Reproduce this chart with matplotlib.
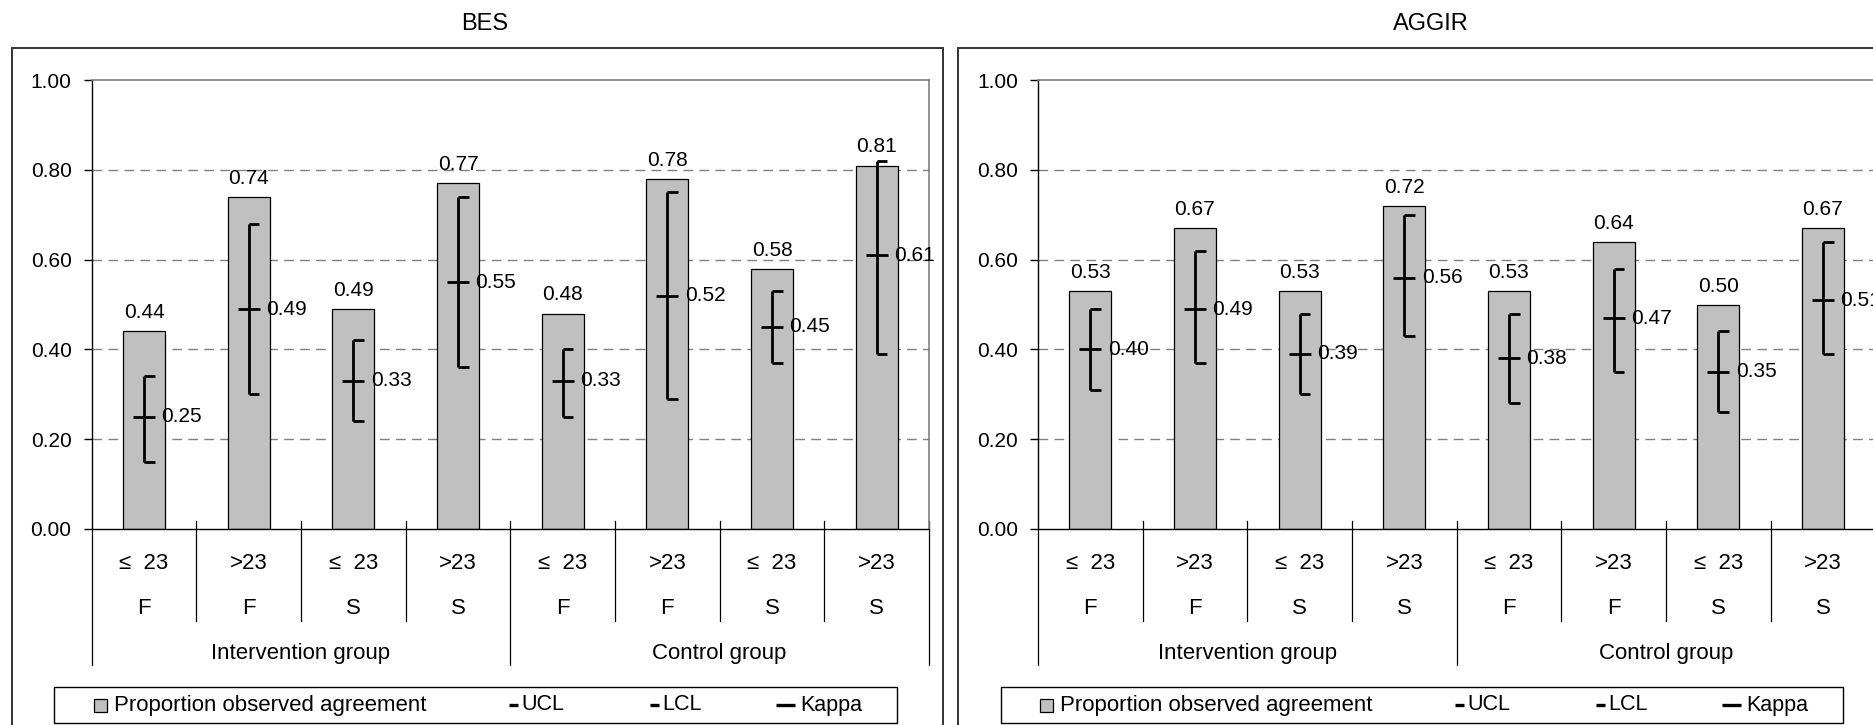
import matplotlib
matplotlib.use("Agg")
import matplotlib.pyplot as plt
from matplotlib.patches import Rectangle
from matplotlib.lines import Line2D
import matplotlib.transforms as mtrans
import numpy as np

plt.rcParams['font.family'] = ['Liberation Sans', 'DejaVu Sans']

# ---------------- data ----------------
panel_titles = ['BES', 'AGGIR']
age_labels = ['\u2264  23', '>23', '\u2264  23', '>23', '\u2264  23', '>23', '\u2264  23', '>23']
site_labels = ['F', 'F', 'S', 'S', 'F', 'F', 'S', 'S']
group_labels = ['Intervention group', 'Control group']

bes_prop = [0.44, 0.74, 0.49, 0.77, 0.48, 0.78, 0.58, 0.81]
bes_kappa = [0.25, 0.49, 0.33, 0.55, 0.33, 0.52, 0.45, 0.61]
bes_ucl = [0.34, 0.68, 0.42, 0.74, 0.40, 0.75, 0.53, 0.82]
bes_lcl = [0.15, 0.30, 0.24, 0.36, 0.25, 0.29, 0.37, 0.39]

aggir_prop = [0.53, 0.67, 0.53, 0.72, 0.53, 0.64, 0.50, 0.67]
aggir_kappa = [0.40, 0.49, 0.39, 0.56, 0.38, 0.47, 0.35, 0.51]
aggir_ucl = [0.49, 0.62, 0.48, 0.70, 0.48, 0.58, 0.44, 0.64]
aggir_lcl = [0.31, 0.37, 0.30, 0.43, 0.28, 0.35, 0.26, 0.39]

legend_labels = ['Proportion observed agreement', 'UCL', 'LCL', 'Kappa']

# ---------------- layout helpers (pixel based) ----------------
W, H = 1874, 725
fig = plt.figure(figsize=(W / 100, H / 100), dpi=100)


def fx(x):
    return x / W


def fy(y):
    return 1 - y / H


BAR_COLOR = '#C0C0C0'
GRID_COLOR = '#808080'
BOX_COLOR = '#333333'

panel_offsets = [0.0, 946.3]
plot_left, plot_right = 91.7, 929.0
plot_top, plot_bottom = 80.3, 528.8
cat_px = (plot_right - plot_left) / 8.0

datasets = [
    (bes_prop, bes_kappa, bes_ucl, bes_lcl),
    (aggir_prop, aggir_kappa, aggir_ucl, aggir_lcl),
]

for p, (title, off, (prop, kappa, ucl, lcl)) in enumerate(zip(panel_titles, panel_offsets, datasets)):
    # outer box
    fig.patches.append(Rectangle((fx(11.7 + off), fy(730)), (942.7 - 11.7) / W, (730 - 47.7) / H,
                                 transform=fig.transFigure, fill=False, edgecolor=BOX_COLOR,
                                 linewidth=1.4, zorder=0))
    # title
    fig.text(fx(484.5 + off), fy(23.5), title, ha='center', va='center', fontsize=17)

    ax = fig.add_axes([fx(plot_left + off), fy(plot_bottom), (plot_right - plot_left) / W,
                       (plot_bottom - plot_top) / H])
    x = np.arange(len(prop))
    ax.set_xlim(-0.5, 7.5)
    ax.set_ylim(0, 1.0)

    # grid
    for g in [0.2, 0.4, 0.6, 0.8]:
        ax.axhline(g, color=GRID_COLOR, linewidth=1.0, linestyle=(0, (7, 4.5)), zorder=0)

    ax.bar(x, prop, width=0.4, color=BAR_COLOR, edgecolor='black', linewidth=0.9, zorder=2)

    half = 11.0 / cat_px
    cap = 10.7 / cat_px
    ax.vlines(x, lcl, ucl, colors='black', linewidth=2.0, zorder=3)
    ax.hlines(ucl, x, x + cap, colors='black', linewidth=2.0, zorder=3)
    ax.hlines(lcl, x, x + cap, colors='black', linewidth=2.0, zorder=3)
    ax.hlines(kappa, x - half, x + half, colors='black', linewidth=2.0, zorder=3)

    for xi, v in zip(x, prop):
        ax.annotate(f'{v:.2f}', (xi, v), xytext=(0, 6.5), textcoords='offset points',
                    ha='center', va='bottom', fontsize=15, zorder=4)
    for xi, v in zip(x, kappa):
        ax.annotate(f'{v:.2f}', (xi, v), xytext=(12.5, 0), textcoords='offset points',
                    ha='left', va='center', fontsize=15, zorder=4)

    # spines
    ax.spines['top'].set_color(GRID_COLOR)
    ax.spines['right'].set_color(GRID_COLOR)
    ax.spines['top'].set_linewidth(1.2)
    ax.spines['right'].set_linewidth(1.2)
    ax.spines['left'].set_linewidth(1.0)
    ax.spines['bottom'].set_linewidth(1.0)

    ax.set_yticks([0, 0.2, 0.4, 0.6, 0.8, 1.0])
    ax.set_yticklabels([f'{t:.2f}' for t in [0, 0.2, 0.4, 0.6, 0.8, 1.0]])
    ax.tick_params(axis='y', direction='out', length=6, width=1.0, pad=8.5, labelsize=15)
    ax.set_xticks([])

    # hierarchical category axis
    tr = mtrans.blended_transform_factory(ax.transData, fig.transFigure)
    for b in np.arange(0.5, 7.5, 1.0):
        if b == 3.5:
            continue
        ax.add_line(Line2D([b, b], [fy(520.7), fy(620.7)], transform=tr, color='black',
                           linewidth=0.9, clip_on=False))
    for b in [-0.5, 3.5, 7.5]:
        ax.add_line(Line2D([b, b], [fy(520.7) if b != -0.5 else fy(528.8), fy(665)], transform=tr,
                           color='black', linewidth=0.9, clip_on=False))
    for xi, a, s in zip(x, age_labels, site_labels):
        ax.text(xi, fy(563.8), a, transform=tr, ha='center', va='center', fontsize=16)
        ax.text(xi, fy(608.8), s, transform=tr, ha='center', va='center', fontsize=16)
    for gi, gl in enumerate(group_labels):
        ax.text(gi * 4 + 1.5, fy(653.8), gl, transform=tr, ha='center', va='center', fontsize=16)

    # legend box (drawn manually)
    fig.patches.append(Rectangle((fx(54.3 + off), fy(723.3)), (896.7 - 54.3) / W, (723.3 - 686.7) / H,
                                 transform=fig.transFigure, fill=False, edgecolor='black',
                                 linewidth=1.0))
    ly = 705.0
    fig.patches.append(Rectangle((fx(94 + off), fy(ly + 6.5)), 13 / W, 13 / H,
                                 transform=fig.transFigure, facecolor=BAR_COLOR,
                                 edgecolor='black', linewidth=0.9))
    fig.text(fx(114 + off), fy(ly), legend_labels[0], ha='left', va='center', fontsize=16)
    for (x0, x1, tx), lab in zip([(509, 518, 521), (650, 659, 662), (776, 795, 800)], legend_labels[1:]):
        fig.lines.append(Line2D([fx(x0 + off), fx(x1 + off)], [fy(ly), fy(ly)],
                                transform=fig.transFigure, color='black', linewidth=2.4,
                                solid_capstyle='butt'))
        fig.text(fx(tx + off), fy(ly), lab, ha='left', va='center', fontsize=15.5)

fig.savefig('out.png', dpi=100)
